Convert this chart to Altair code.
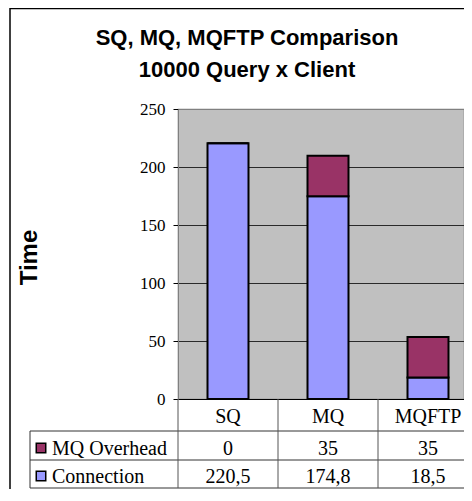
import altair as alt
import pandas as pd

CATEGORIES = ["SQ", "MQ", "MQFTP"]
SERIES = ["MQ Overhead", "Connection"]
OVERHEAD = [0, 35, 35]
CONNECTION = [220.5, 174.8, 18.5]
Y_TICKS = [0, 50, 100, 150, 200, 250]
TITLE_LINES = ["SQ, MQ, MQFTP Comparison", "10000 Query x Client"]
Y_TITLE = "Time"
COLORS = {"Connection": "#9999FF", "MQ Overhead": "#993366"}

SERIF = "Liberation Serif"
SANS = "Liberation Sans"

rows = []
for i, c in enumerate(CATEGORIES):
    rows.append({"category": c, "series": "Connection", "value": CONNECTION[i], "order": 0})
    rows.append({"category": c, "series": "MQ Overhead", "value": OVERHEAD[i], "order": 1})
df = pd.DataFrame(rows)
df["label"] = df["value"].map(lambda v: (f"{v:g}").replace(".", ","))

color_scale = alt.Scale(domain=["Connection", "MQ Overhead"],
                        range=[COLORS["Connection"], COLORS["MQ Overhead"]])
x_enc = alt.X("category:N", sort=CATEGORIES,
              scale=alt.Scale(range=[0, 300], paddingInner=0, paddingOuter=0),
              axis=alt.Axis(title=None, ticks=False, labelAngle=0, labelPadding=7,
                            labelFont=SERIF, labelFontSize=20,
                            labelColor="black", domainColor="black", domainWidth=1.2))

bars = alt.Chart(df).mark_bar(size=41, stroke="black", strokeWidth=2).encode(
    x=x_enc,
    y=alt.Y("value:Q", stack="zero",
            scale=alt.Scale(domain=[0, 250], nice=False),
            axis=alt.Axis(values=Y_TICKS, title=Y_TITLE, grid=True,
                          gridColor={"condition": {"test": "datum.value === 250", "value": "#808080"},
                                     "value": "#2a2a2a"},
                          gridWidth=1,
                          domainColor="#808080", tickColor="black", tickSize=5,
                          labelFont=SERIF, labelFontSize=17, labelColor="black",
                          labelPadding=8,
                          titleFont=SANS, titleFontWeight="bold", titleFontSize=24,
                          titleColor="black", titleAngle=270, titleX=-149, titleY=148,
                          titleAlign="center", titleBaseline="middle")),
    color=alt.Color("series:N", scale=color_scale, legend=None),
    order=alt.Order("order:Q"),
)

layers = [bars]

# data-table rows
row_base = {"MQ Overhead": 346, "Connection": 374}
row_center = {"MQ Overhead": 339, "Connection": 367}
for s in SERIES:
    layers.append(
        alt.Chart(df).transform_filter(alt.datum.series == s)
        .mark_text(font=SERIF, fontSize=20, baseline="alphabetic", color="black")
        .encode(x=alt.X("category:N", sort=CATEGORIES), y=alt.value(row_base[s]), text="label:N")
    )
    sdf = pd.DataFrame({"series": [s]})
    layers.append(
        alt.Chart(sdf).mark_text(font=SERIF, fontSize=20, baseline="alphabetic",
                                 align="left", color="black")
        .encode(x=alt.value(-126), y=alt.value(row_base[s]), text="series:N")
    )
    layers.append(
        alt.Chart(sdf).mark_point(shape="square", filled=True, size=90, stroke="black",
                                  strokeWidth=1.5, opacity=1)
        .encode(x=alt.value(-137), y=alt.value(row_center[s]),
                color=alt.Color("series:N", scale=color_scale, legend=None))
    )

# chart title
tdf = pd.DataFrame({"line": TITLE_LINES, "idx": [0, 1]})
for i, yb in enumerate([-64, -32]):
    layers.append(
        alt.Chart(tdf).transform_filter(alt.datum.idx == i)
        .mark_text(font=SANS, fontWeight="bold", fontSize=22,
                   baseline="alphabetic", align="center", color="black")
        .encode(x=alt.value(69), y=alt.value(yb), text="line:N")
    )

one = pd.DataFrame({"k": [0]})

def hrule(x1, x2, y, color="#333333", w=1.0):
    return alt.Chart(one).mark_rule(color=color, strokeWidth=w).encode(
        x=alt.value(x1), x2=alt.value(x2), y=alt.value(y))

def vrule(x, y1, y2, color="#333333", w=1.0):
    return alt.Chart(one).mark_rule(color=color, strokeWidth=w).encode(
        x=alt.value(x), y=alt.value(y1), y2=alt.value(y2))

layers += [
    hrule(-148, 300, 322),
    hrule(-148, 300, 351),
    hrule(-148, 300, 379),
    vrule(-148, 322, 379),
    vrule(0, 290, 379, color="#555555"),
    vrule(100, 290, 379, color="#555555"),
    vrule(200, 290, 379, color="#555555"),
    vrule(-168, -101, 381, color="black", w=1.5),
    hrule(-168, 300, -100.5, color="black", w=1.5),
]

chart = alt.layer(*layers).properties(
    width=286, height=290,
    autosize=alt.AutoSizeParams(type="none"),
    padding={"left": 170, "top": 101, "right": 0, "bottom": 90},
    background="white",
).configure_view(fill="#C0C0C0", stroke="#808080", strokeWidth=1.2
).configure_text(font=SERIF)

chart.save("out.html", embed_options={"renderer": "svg", "actions": False})
